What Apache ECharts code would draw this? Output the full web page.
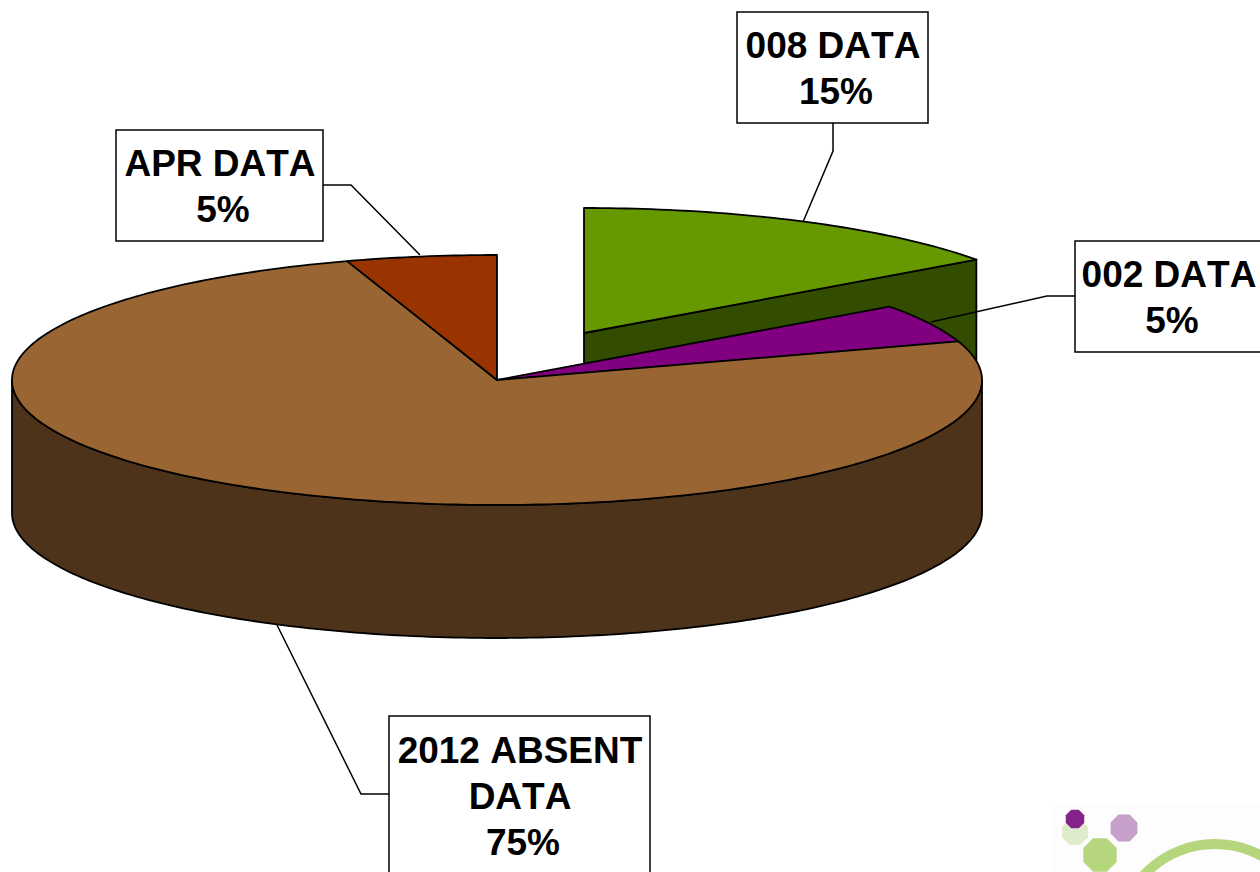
<!DOCTYPE html>
<html lang="en">
<head>
<meta charset="UTF-8">
<title>2012 Absent Data</title>
<style>
    html, body { margin: 0; padding: 0; background: #fff; }
    #pieChart { width: 1260px; height: 872px; }
    /* the labels in the original are set without kerning, !important because the svg text has an inline font shorthand */
    #pieChart text { font-kerning: none !important; }
</style>
<script src="https://cdn.jsdelivr.net/npm/echarts@6/dist/echarts.min.js"></script>
</head>
<body>
<div id="pieChart"></div>
<script>
    // slices clockwise from 12 o'clock
    const categories = ['008 DATA', '002 DATA', '2012 ABSENT\nDATA', 'APR DATA'];
    const values = [15, 5, 75, 5];

    const topColors = ['#669900', '#800080', '#996633', '#993300'];
    const wallColors = ['#334d00', '#400040', '#4d331a', '#4d1a00'];

    // tilted pie geometry
    const cx = 497, cy = 380, rx = 485, ry = 125, depth = 133;
    const explode = [[87, -47], [0, 0], [0, 0], [0, 0]];

    // callout boxes [x, y, w, h], text centre x, first line y, leader line
    const boxes = [
        {box: [737, 12, 191, 111], tx: 833, ty: 22, leader: [[833, 123], [833, 151], [803, 222]]},
        {box: [1075, 241, 200, 111], tx: 1169, ty: 251, leader: [[1075, 296], [1047, 296], [931, 322]]},
        {box: [389, 716, 261, 170], tx: 520, ty: 727, leader: [[389, 794], [361, 794], [277, 625]]},
        {box: [116, 130, 207, 111], tx: 220, ty: 140, leader: [[323, 185], [351, 185], [420, 255]]}
    ];
    const lineHeight = 46;
    const pctShift = 3; // percent line sits a little right of the name

    const total = values.reduce((a, b) => a + b, 0);
    const startDeg = [];
    values.reduce((sum, v, i) => { startDeg[i] = sum / total * 360; return sum + v; }, 0);

    // point on the top ellipse, deg clockwise from 12 o'clock
    function rim(deg, ox, oy, down) {
        const a = deg * Math.PI / 180;
        return [cx + ox + rx * Math.sin(a), cy + oy - ry * Math.cos(a) + (down || 0)];
    }

    function arcPoints(from, to, ox, oy, down) {
        const pts = [];
        for (let d = from; d < to; d += 1) pts.push(rim(d, ox, oy, down));
        pts.push(rim(to, ox, oy, down));
        return pts;
    }

    function renderSlice(params, api) {
        const i = params.dataIndex;
        const from = startDeg[i];
        const to = from + api.value(0) / total * 360;
        const [ox, oy] = explode[i];
        const apex = [cx + ox, cy + oy];
        const edge = {stroke: '#000', lineWidth: 1.8, lineJoin: 'round'};
        const children = [];

        // cut face, only seen on the pulled out slice
        if (ox !== 0) {
            const end = rim(to, ox, oy);
            children.push({
                type: 'polygon',
                shape: {points: [apex, end, [end[0], end[1] + depth], [apex[0], apex[1] + depth]]},
                style: Object.assign({fill: wallColors[i]}, edge)
            });
        }
        // outer wall, front half of the rim
        const wallFrom = Math.max(from, 90), wallTo = Math.min(to, 270);
        if (wallFrom < wallTo) {
            const outer = arcPoints(wallFrom, wallTo, ox, oy);
            const lower = arcPoints(wallFrom, wallTo, ox, oy, depth).reverse();
            children.push({
                type: 'polygon',
                shape: {points: outer.concat(lower)},
                style: Object.assign({fill: wallColors[i]}, edge)
            });
        }
        children.push({
            type: 'polygon',
            shape: {points: [apex].concat(arcPoints(from, to, ox, oy))},
            style: Object.assign({fill: topColors[i]}, edge)
        });
        return {type: 'group', children: children};
    }

    function calloutText(text, x, y) {
        return {
            type: 'text',
            x: x,
            y: y,
            style: {
                text: text,
                fill: '#000',
                font: 'bold 37px "Liberation Sans", Arial, sans-serif',
                lineHeight: lineHeight,
                align: 'center',
                verticalAlign: 'top'
            }
        };
    }

    function renderCallout(params, api) {
        const i = params.dataIndex;
        const b = boxes[i];
        const pct = Math.round(api.value(0) / total * 100) + '%';
        const nameLines = categories[i].split('\n').length;
        return {
            type: 'group',
            children: [
                {type: 'polyline', shape: {points: b.leader}, style: {stroke: '#000', lineWidth: 1.5, fill: null}},
                {
                    type: 'rect',
                    shape: {x: b.box[0], y: b.box[1], width: b.box[2], height: b.box[3]},
                    style: {fill: '#fff', stroke: '#000', lineWidth: 1.5}
                },
                calloutText(categories[i], b.tx, b.ty),
                calloutText(pct, b.tx + pctShift, b.ty + nameLines * lineHeight)
            ]
        };
    }

    function octagon(x, y, r) {
        const pts = [];
        for (let k = 0; k < 8; k++) {
            const a = (k + 0.5) * Math.PI / 4;
            pts.push([x + r * Math.cos(a), y + r * Math.sin(a)]);
        }
        return pts;
    }

    let myChart = echarts.init(document.getElementById('pieChart'), null, {renderer: 'svg'});
    let option = {
        animation: false,
        backgroundColor: '#fff',
        series: [
            {type: 'custom', coordinateSystem: 'none', z: 2, data: values, renderItem: renderSlice},
            {type: 'custom', coordinateSystem: 'none', z: 3, data: values, renderItem: renderCallout}
        ],
        // small logo in the corner
        graphic: [
            {type: 'rect', z: 1, shape: {x: 1052, y: 805, width: 208, height: 67}, style: {fill: '#fdfdfd'}},
            {type: 'arc', z: 1, shape: {cx: 1215, cy: 941, r: 97, startAngle: Math.PI, endAngle: Math.PI * 2}, style: {stroke: '#b5d67d', lineWidth: 10, fill: null}},
            {type: 'polygon', z: 1, shape: {points: octagon(1075, 832, 14)}, style: {fill: '#dfeccb'}},
            {type: 'polygon', z: 1, shape: {points: octagon(1075, 819, 10)}, style: {fill: '#84248a'}},
            {type: 'polygon', z: 1, shape: {points: octagon(1124, 828, 14.5)}, style: {fill: '#c5a0c9'}},
            {type: 'polygon', z: 1, shape: {points: octagon(1100, 855, 18)}, style: {fill: '#b5d67d'}}
        ]
    };
    option && myChart.setOption(option);
</script>
</body>
</html>
